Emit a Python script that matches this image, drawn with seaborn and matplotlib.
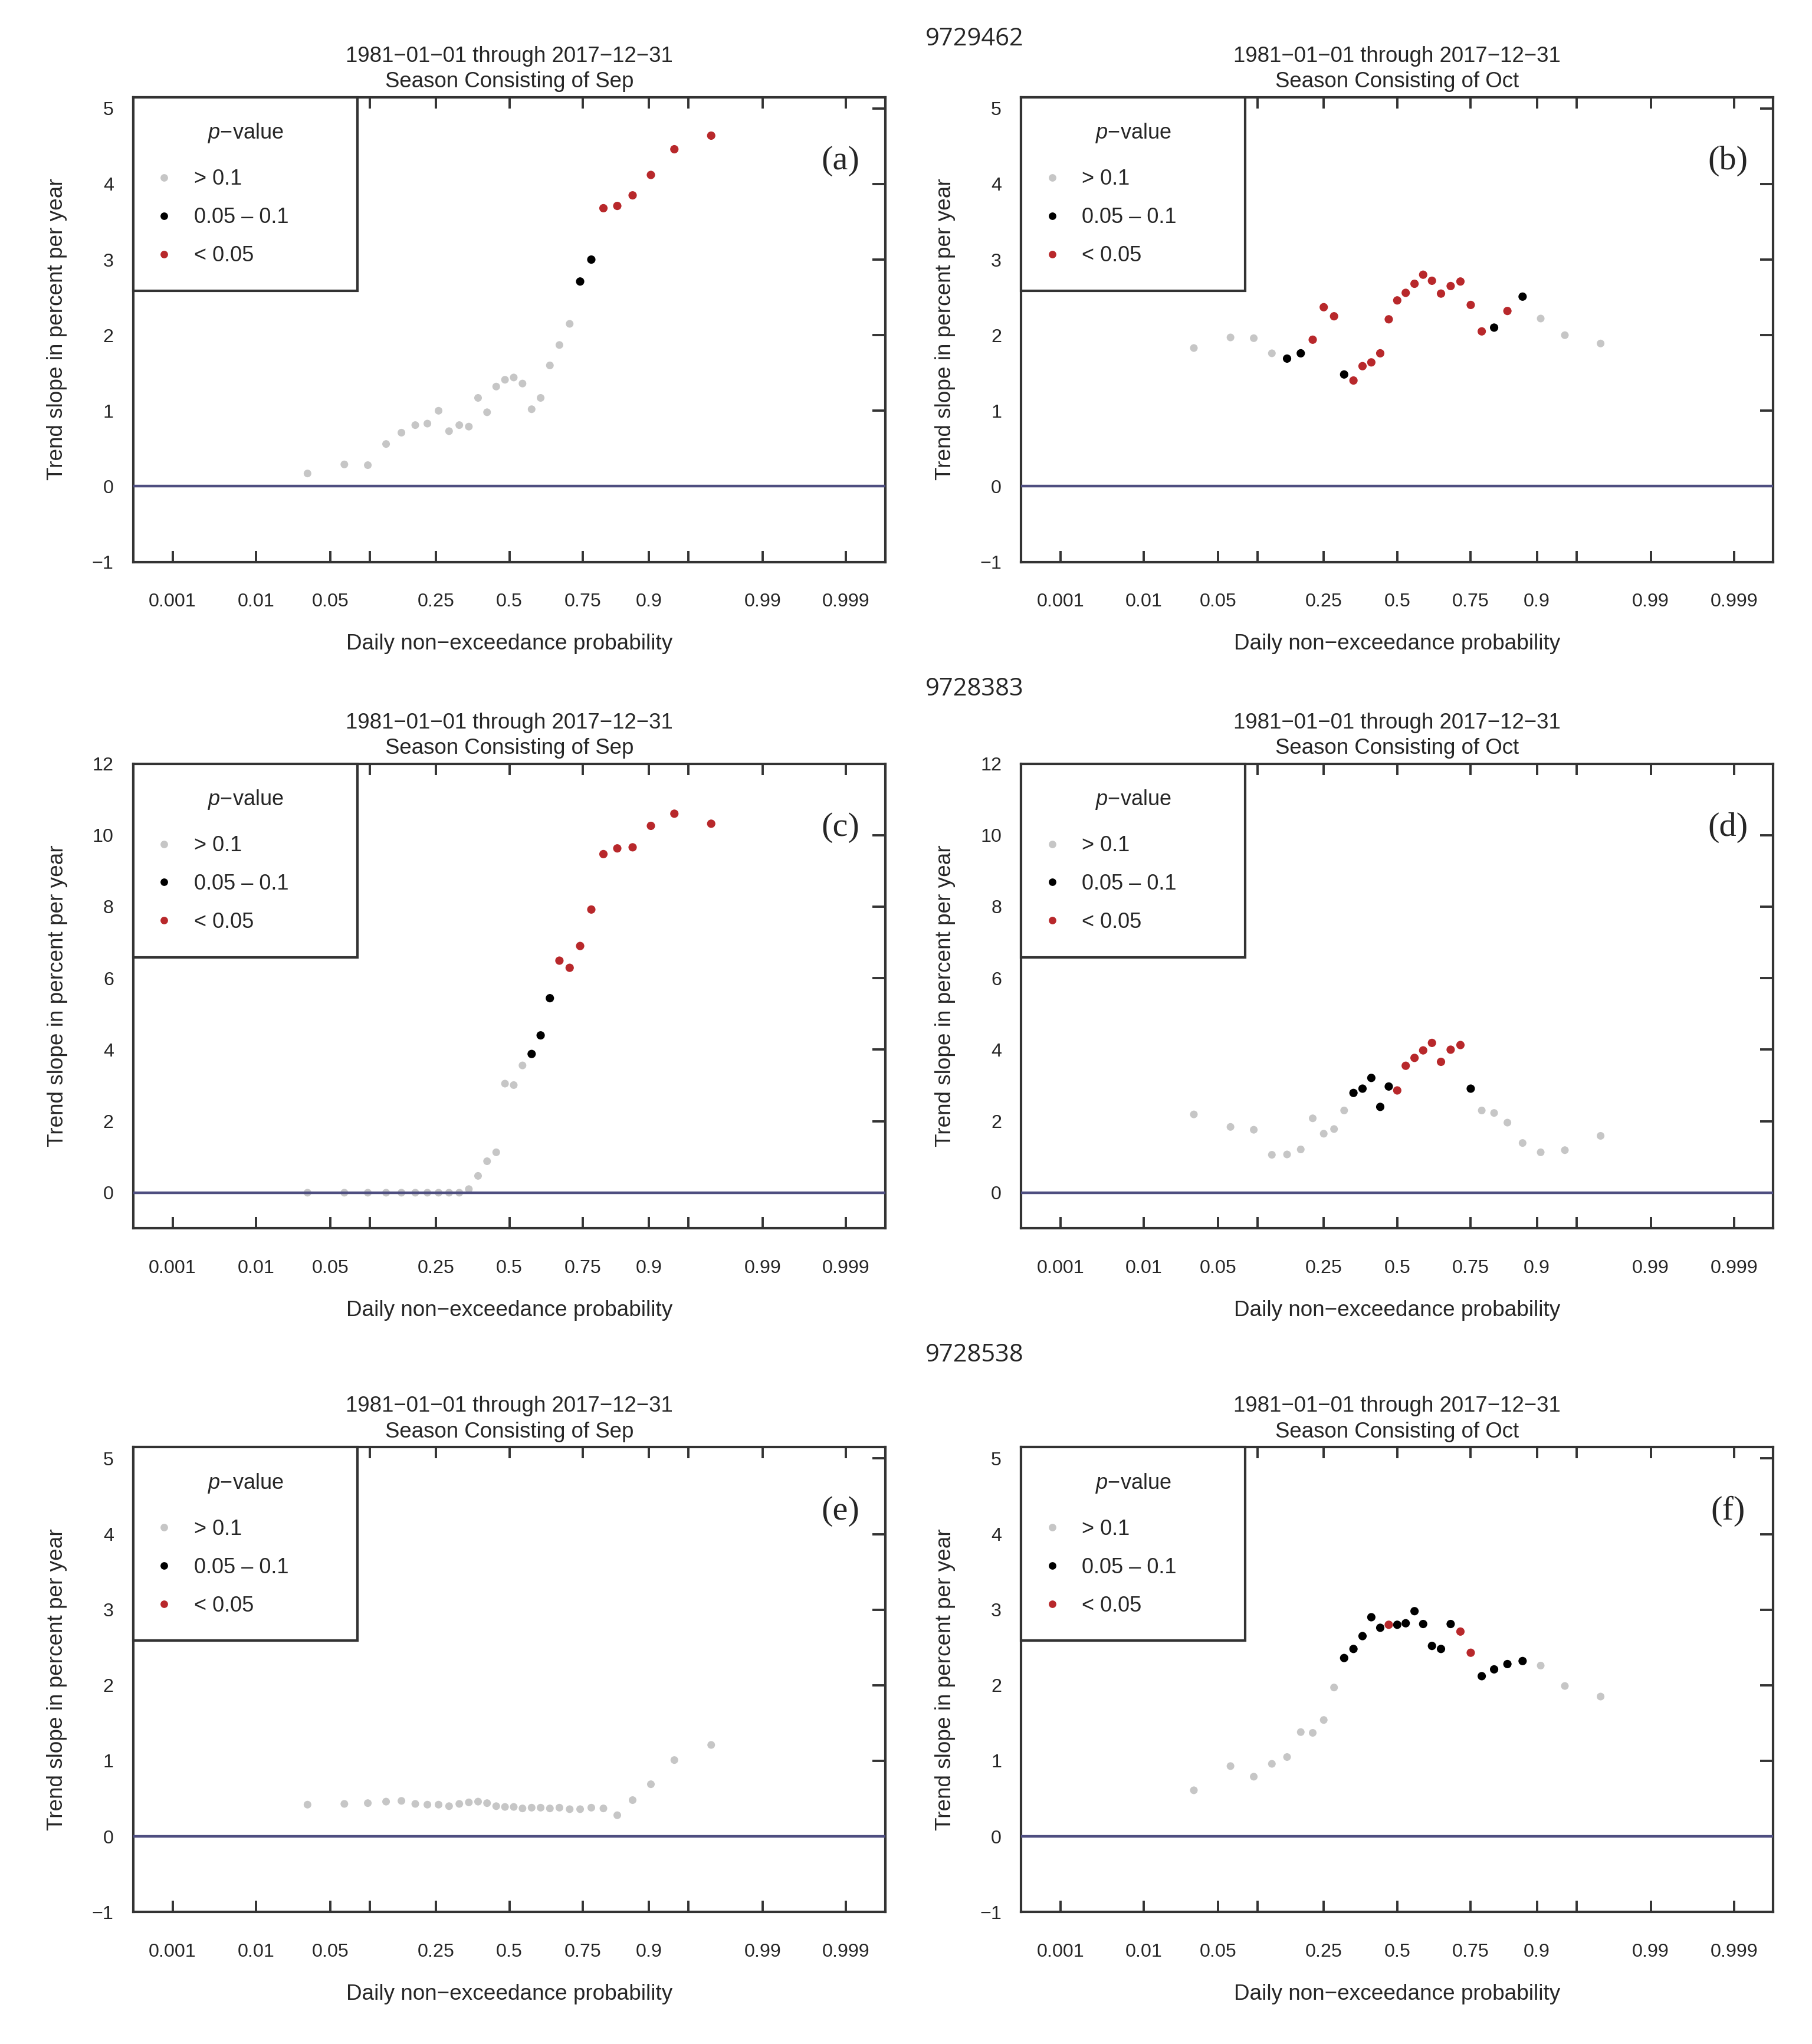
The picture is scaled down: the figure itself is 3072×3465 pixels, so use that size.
import numpy as np
import matplotlib
matplotlib.use("Agg")
import matplotlib.pyplot as plt
from matplotlib.lines import Line2D
import pandas as pd
import seaborn as sns
from statistics import NormalDist

# daily non-exceedance probabilities (30 days in Sep, 31 in Oct)
prob_sep = [0.032, 0.065, 0.097, 0.129, 0.161, 0.194, 0.226, 0.258, 0.290, 0.323,
            0.355, 0.387, 0.419, 0.452, 0.484, 0.516, 0.548, 0.581, 0.613, 0.645,
            0.677, 0.710, 0.742, 0.774, 0.806, 0.839, 0.871, 0.903, 0.935, 0.968]
prob_oct = [0.031, 0.063, 0.094, 0.125, 0.156, 0.188, 0.219, 0.250, 0.281, 0.313,
            0.344, 0.375, 0.406, 0.438, 0.469, 0.500, 0.531, 0.563, 0.594, 0.625,
            0.656, 0.688, 0.719, 0.750, 0.781, 0.813, 0.844, 0.875, 0.906, 0.938, 0.969]

# trend slopes (% per year) and p-value class: g = >0.1, k = 0.05-0.1, r = <0.05
slope_a = [0.17, 0.29, 0.28, 0.56, 0.71, 0.81, 0.83, 1.0, 0.73, 0.81,
           0.79, 1.17, 0.98, 1.32, 1.41, 1.44, 1.36, 1.02, 1.17, 1.60,
           1.87, 2.15, 2.71, 3.0, 3.68, 3.71, 3.85, 4.12, 4.46, 4.64]
pval_a = list("gggggggggggggggggggggg" + "kk" + "rrrrrr")

slope_b = [1.83, 1.97, 1.96, 1.76, 1.69, 1.76, 1.94, 2.37, 2.25, 1.48,
           1.40, 1.59, 1.64, 1.76, 2.21, 2.46, 2.56, 2.68, 2.80, 2.72,
           2.55, 2.65, 2.71, 2.40, 2.05, 2.10, 2.32, 2.51, 2.22, 2.0, 1.89]
pval_b = list("ggggkkrrrkrrrrrrrrrrrrrrrkrkggg")

slope_c = [0.0, 0.0, 0.0, 0.0, 0.0, 0.0, 0.0, 0.0, 0.0, 0.0,
           0.1, 0.47, 0.88, 1.13, 3.05, 3.01, 3.56, 3.88, 4.4, 5.44,
           6.49, 6.29, 6.9, 7.92, 9.47, 9.63, 9.66, 10.26, 10.6, 10.32]
pval_c = list("ggggggggggggggggg" + "kkk" + "rrrrrrrrrr")

slope_d = [2.19, 1.84, 1.76, 1.06, 1.07, 1.21, 2.08, 1.65, 1.78, 2.30,
           2.79, 2.91, 3.21, 2.40, 2.97, 2.86, 3.55, 3.77, 3.98, 4.19,
           3.66, 4.0, 4.13, 2.91, 2.30, 2.23, 1.96, 1.39, 1.13, 1.19, 1.59]
pval_d = list("gggggggggg" + "kkkkk" + "rrrrrrrr" + "k" + "ggggggg")

slope_e = [0.42, 0.43, 0.44, 0.46, 0.47, 0.43, 0.42, 0.42, 0.40, 0.43,
           0.45, 0.46, 0.44, 0.40, 0.39, 0.39, 0.37, 0.38, 0.38, 0.37,
           0.38, 0.36, 0.36, 0.38, 0.37, 0.28, 0.48, 0.69, 1.01, 1.21]
pval_e = list("g" * 30)

slope_f = [0.61, 0.93, 0.79, 0.96, 1.05, 1.38, 1.37, 1.54, 1.97, 2.36,
           2.48, 2.65, 2.90, 2.76, 2.80, 2.80, 2.82, 2.98, 2.81, 2.52,
           2.48, 2.81, 2.71, 2.43, 2.12, 2.21, 2.28, 2.32, 2.26, 1.99, 1.85]
pval_f = list("ggggggggg" + "kkkkk" + "r" + "kkkkkkk" + "rr" + "kkkk" + "ggg")

stations = ["9729462", "9728383", "9728538"]
period = "1981-01-01 through 2017-12-31"
x_ticks = [0.001, 0.01, 0.05, 0.1, 0.25, 0.5, 0.75, 0.9, 0.95, 0.99, 0.999]
x_ticklabels = ["0.001", "0.01", "0.05", "", "0.25", "0.5", "0.75", "0.9", "", "0.99", "0.999"]
legend_labels = ["> 0.1", "0.05 \u2013 0.1", "< 0.05"]
colors = {"g": "#c6c6c6", "k": "#000000", "r": "#b8282b"}
sizes = {"g": 22, "k": 26, "r": 26}

nd = NormalDist()


def probit(p):
    p = np.asarray(p, dtype=float)
    out = [nd.inv_cdf(min(max(v, 1e-12), 1 - 1e-12)) if np.isfinite(v) else np.nan for v in p.ravel()]
    return np.array(out).reshape(p.shape)


def inv_probit(z):
    z = np.asarray(z, dtype=float)
    out = [nd.cdf(v) if np.isfinite(v) else np.nan for v in z.ravel()]
    return np.array(out).reshape(z.shape)


sns.set_style("white")
plt.rcParams["font.family"] = ["Liberation Sans", "DejaVu Sans"]
plt.rcParams["mathtext.fontset"] = "custom"
plt.rcParams["mathtext.it"] = "Liberation Sans:italic"
plt.rcParams["mathtext.rm"] = "Liberation Sans"

fig = plt.figure(figsize=(15.36, 17.325), dpi=200)

panels = [
    ("a", prob_sep, slope_a, pval_a, "Sep", (-1, 5.15), list(range(-1, 6))),
    ("b", prob_oct, slope_b, pval_b, "Oct", (-1, 5.15), list(range(-1, 6))),
    ("c", prob_sep, slope_c, pval_c, "Sep", (-1, 12), list(range(0, 13, 2))),
    ("d", prob_oct, slope_d, pval_d, "Oct", (-1, 12), list(range(0, 13, 2))),
    ("e", prob_sep, slope_e, pval_e, "Sep", (-1, 5.15), list(range(-1, 6))),
    ("f", prob_oct, slope_f, pval_f, "Oct", (-1, 5.15), list(range(-1, 6))),
]

lefts = [0.0736, 0.5636]
bottoms = [0.7251, 0.3990, 0.0646]
w, h = 0.415, 0.2274

for i, (tag, prob, slope, pval, month, ylim, yticks) in enumerate(panels):
    row, col = divmod(i, 2)
    ax = fig.add_axes([lefts[col], bottoms[row], w, h])
    ax.set_xscale("function", functions=(probit, inv_probit))
    df = pd.DataFrame({"prob": prob, "slope": slope, "pval": pval})
    ax.axhline(0, color="#4e4e80", lw=1.6, zorder=3)
    sns.scatterplot(data=df, x="prob", y="slope", hue="pval", palette=colors,
                    size="pval", sizes=sizes, edgecolor="none", legend=False,
                    ax=ax, zorder=2)
    ax.set_xlim(0.00028, 0.99972)
    ax.set_ylim(*ylim)
    ax.set_xticks(x_ticks)
    ax.set_xticklabels(x_ticklabels)
    ax.set_yticks(yticks)
    ax.set_yticklabels([str(t).replace("-", "\u2212") for t in yticks])
    ax.minorticks_off()
    ax.tick_params(axis="x", direction="in", top=True, bottom=True, length=7,
                   width=1.4, color="#333333", pad=19, labelsize=11.6)
    ax.tick_params(axis="y", direction="in", left=False, right=True, labelleft=True,
                   length=8, width=1.4, color="#333333", pad=12, labelsize=11.6)
    for sp in ax.spines.values():
        sp.set_color("#333333")
        sp.set_linewidth(1.5)
    ax.set_xlabel("Daily non\u2212exceedance probability", fontsize=13.3, labelpad=14)
    ax.set_ylabel("Trend slope in percent per year", fontsize=13.3, labelpad=15)
    ax.set_title(period.replace("-", "\u2212") + "\nSeason Consisting of " + month,
                 fontsize=13.2, pad=6, linespacing=1.3)
    ax.text(0.94, 0.862, "(" + tag + ")", transform=ax.transAxes, ha="center",
            va="center", fontsize=21, family=["Liberation Serif", "DejaVu Serif"])

    handles = [Line2D([], [], ls="none", marker="o", ms=4.6, mec="none", color=colors[c])
               for c in ["g", "k", "r"]]
    leg = ax.legend(handles, legend_labels, title="$p$\u2212value", loc="upper left",
                    bbox_to_anchor=(0, 1, 0.298, 0), mode="expand", borderaxespad=0,
                    frameon=True, fancybox=False, framealpha=1, edgecolor="#333333",
                    fontsize=13, title_fontsize=13, labelspacing=0.83, borderpad=1.15,
                    handletextpad=1.1, handlelength=0.6)
    leg.get_frame().set_linewidth(1.5)
    leg._legend_box.sep = 14.8
    leg.set_zorder(5)

station_y = [0.981, 0.663, 0.337]
for st, y in zip(stations, station_y):
    fig.text(0.538, y, st, ha="center", va="center", fontsize=15,
             family=["Open Sans", "DejaVu Sans"])

fig.savefig("out.png", dpi=200, facecolor="white")
